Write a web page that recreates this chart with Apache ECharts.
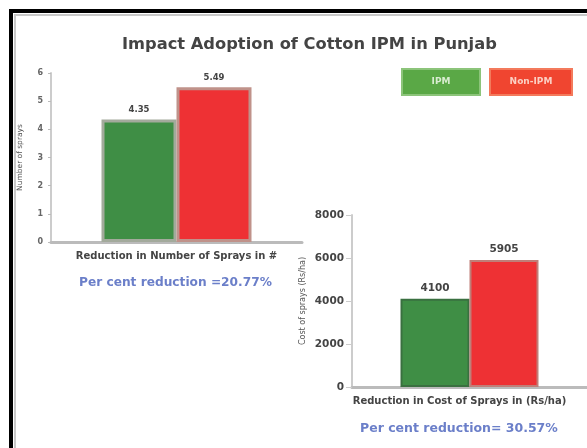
<!DOCTYPE html>
<html><head><meta charset="utf-8">
<script src="https://cdn.jsdelivr.net/npm/echarts@6/dist/echarts.min.js"></script>
<style>html,body{margin:0;padding:0;background:#fff}#c{width:587px;height:448px}</style>
</head><body><div id="c"></div>
<script>
const seriesNames = ['IPM', 'Non-IPM'];
const sprayCategory = ['Reduction in Number of Sprays in #'];
const sprayIPM = [4.35];
const sprayNonIPM = [5.49];
const sprayTicks = [0, 1, 2, 3, 4, 5, 6];
const costCategory = ['Reduction in Cost of Sprays in (Rs/ha)'];
const costIPM = [4100];
const costNonIPM = [5905];
const costTicks = [0, 2000, 4000, 6000, 8000];
const sprayNote = 'Per cent reduction =20.77%';
const costNote = 'Per cent reduction= 30.57%';

const F = 'DejaVu Sans';
const chart = echarts.init(document.getElementById('c'));
const green = '#3f8e45', red = '#ee3134';
const lbl = {show:true, position:'top', distance:5, color:'#444', fontSize:8.5, fontWeight:'bold', fontFamily:F};
chart.setOption({
  animation:false,
  backgroundColor:'#fff',
  title:{text:'Impact Adoption of Cotton IPM in Punjab', left:117, top:32,
    textStyle:{fontFamily:F, fontSize:16.3, fontWeight:'bold', color:'#444'}},
  graphic:[
    {type:'rect', shape:{x:11,y:11,width:700,height:600}, style:{fill:'none', stroke:'#000', lineWidth:4}, z:10},
    {type:'rect', shape:{x:15,y:15,width:700,height:600}, style:{fill:'none', stroke:'#c8c8c8', lineWidth:2}, z:10},
    {type:'group', left:401, top:68, children:[
      {type:'rect', shape:{x:0,y:0,width:78,height:26}, style:{fill:'#5aa846', stroke:'#8cc47a', lineWidth:2}},
      {type:'text', x:39, y:13, style:{text:seriesNames[0], fill:'#d8ecd0', fontSize:9, fontWeight:'bold', fontFamily:F, align:'center', verticalAlign:'middle'}}
    ]},
    {type:'group', left:489, top:68, children:[
      {type:'rect', shape:{x:0,y:0,width:82,height:26}, style:{fill:'#f04530', stroke:'#f37a5c', lineWidth:2}},
      {type:'text', x:41, y:13, style:{text:seriesNames[1], fill:'#fbd0c4', fontSize:9, fontWeight:'bold', fontFamily:F, align:'center', verticalAlign:'middle'}}
    ]},
    {type:'text', left:79, top:277, style:{text:sprayNote, fill:'#6b7fc9', fontSize:12.2, fontWeight:'bold', fontFamily:F}},
    {type:'text', left:360, top:422, style:{text:costNote, fill:'#6b7fc9', fontSize:12.5, fontWeight:'bold', fontFamily:F}}
  ],
  grid:[
    {left:51, top:73, width:251, height:169},
    {left:352, top:215, width:240, height:172}
  ],
  xAxis:[
    {type:'category', gridIndex:0, data:sprayCategory,
      axisLine:{lineStyle:{color:'#bbb', width:3}}, axisTick:{show:false},
      axisLabel:{color:'#444', fontSize:10, fontWeight:'bold', fontFamily:F, margin:9}},
    {type:'category', gridIndex:1, data:costCategory,
      axisLine:{lineStyle:{color:'#bbb', width:3}}, axisTick:{show:false},
      axisLabel:{color:'#444', fontSize:10, fontWeight:'bold', fontFamily:F, margin:9, align:'center', padding:[0,20,0,0]}}
  ],
  yAxis:[
    {type:'value', gridIndex:0, min:0, max:6, interval:1,
      name:'Number of sprays', nameLocation:'middle', nameGap:27, nameRotate:90,
      nameTextStyle:{color:'#555', fontSize:7.5, fontFamily:F},
      axisLine:{show:true, lineStyle:{color:'#ccc', width:2}}, axisTick:{show:true, length:3, lineStyle:{color:'#bbb'}},
      splitLine:{show:false},
      axisLabel:{color:'#666', fontSize:8, fontWeight:'bold', fontFamily:F, margin:8, formatter:v=>sprayTicks.includes(v)?String(v):''}},
    {type:'value', gridIndex:1, min:0, max:8000, interval:2000,
      name:'Cost of sprays (Rs/ha)', nameLocation:'middle', nameGap:45, nameRotate:90,
      nameTextStyle:{color:'#555', fontSize:8, fontFamily:F},
      axisLine:{show:true, lineStyle:{color:'#ccc', width:2}}, axisTick:{show:true, length:6, lineStyle:{color:'#ccc'}},
      splitLine:{show:false},
      axisLabel:{color:'#444', fontSize:10.5, fontWeight:'bold', fontFamily:F, margin:8, formatter:v=>costTicks.includes(v)?String(v):''}}
  ],
  series:[
    {name:seriesNames[0], type:'bar', xAxisIndex:0, yAxisIndex:0, data:sprayIPM, barWidth:75, barGap:'0%',
      itemStyle:{color:green, borderColor:'#a3aa9c', borderWidth:3}, label:lbl},
    {name:seriesNames[1], type:'bar', xAxisIndex:0, yAxisIndex:0, data:sprayNonIPM, barWidth:75, barGap:'0%',
      itemStyle:{color:red, borderColor:'#c0928a', borderWidth:3}, label:lbl},
    {name:seriesNames[0], type:'bar', xAxisIndex:1, yAxisIndex:1, data:costIPM, barWidth:69, barGap:'0%',
      itemStyle:{color:green, borderColor:'#3a7040', borderWidth:2}, label:Object.assign({}, lbl, {fontSize:10.5})},
    {name:seriesNames[1], type:'bar', xAxisIndex:1, yAxisIndex:1, data:costNonIPM, barWidth:69, barGap:'0%',
      itemStyle:{color:red, borderColor:'#c07e78', borderWidth:2}, label:Object.assign({}, lbl, {fontSize:10.5})}
  ]
});
</script></body></html>
